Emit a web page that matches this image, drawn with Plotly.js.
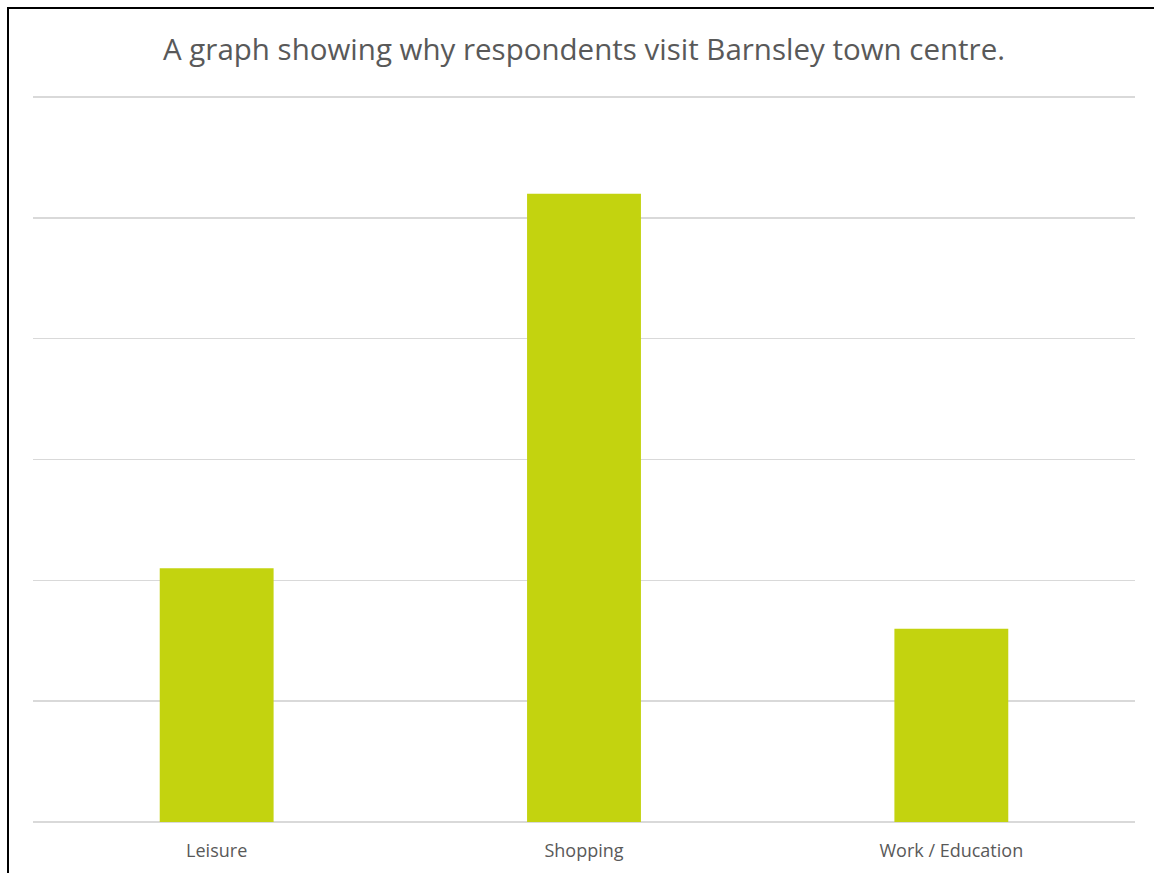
<!DOCTYPE html>
<html>
<head>
<meta charset="utf-8">
<script src="https://cdn.plot.ly/plotly-3.0.1.min.js"></script>
<style>
html,body{margin:0;padding:0;background:#fff;overflow:hidden;}
#chart{width:1154px;height:873px;position:absolute;left:0;top:0;}
#frame{position:absolute;left:7px;top:7px;width:1200px;height:900px;border-left:2px solid #000;border-top:2px solid #000;pointer-events:none;}
</style>
</head>
<body>
<div id="chart"></div>
<div id="frame"></div>
<script>
const categories = ["Leisure", "Shopping", "Work / Education"];
const values = [21, 52, 16];
const titleText = "A graph showing why respondents visit Barnsley town centre.";

const trace = {
  type: "bar",
  x: categories,
  y: values,
  marker: {color: "#c3d30f"},
  width: 0.31,
  hoverinfo: "x+y"
};

const layout = {
  width: 1154,
  height: 873,
  margin: {l: 33, r: 19, t: 91, b: 51},
  paper_bgcolor: "#ffffff",
  plot_bgcolor: "#ffffff",
  font: {family: "'Open Sans', sans-serif", color: "#595959"},
  title: {
    text: titleText,
    font: {size: 29.5, color: "#595959", family: "'Open Sans', sans-serif"},
    x: 0.5, xanchor: "center", xref: "paper",
    y: 1 - 50/873, yanchor: "middle", yref: "container"
  },
  xaxis: {
    type: "category",
    showgrid: false,
    showline: false,
    ticks: "",
    tickfont: {size: 18, color: "#595959"},
    ticklen: 0,
    ticklabelstandoff: 16
  },
  yaxis: {
    range: [0, 60.5],
    dtick: 10,
    tick0: 0,
    showticklabels: false,
    showgrid: true,
    gridcolor: "#d9d9d9",
    gridwidth: 1.5,
    zeroline: true,
    zerolinecolor: "#d9d9d9",
    zerolinewidth: 1.5,
    showline: false,
    ticks: ""
  },
  bargap: 0.69,
  showlegend: false
};

Plotly.newPlot("chart", [trace], layout, {displayModeBar: false, staticPlot: true});
</script>
</body>
</html>
